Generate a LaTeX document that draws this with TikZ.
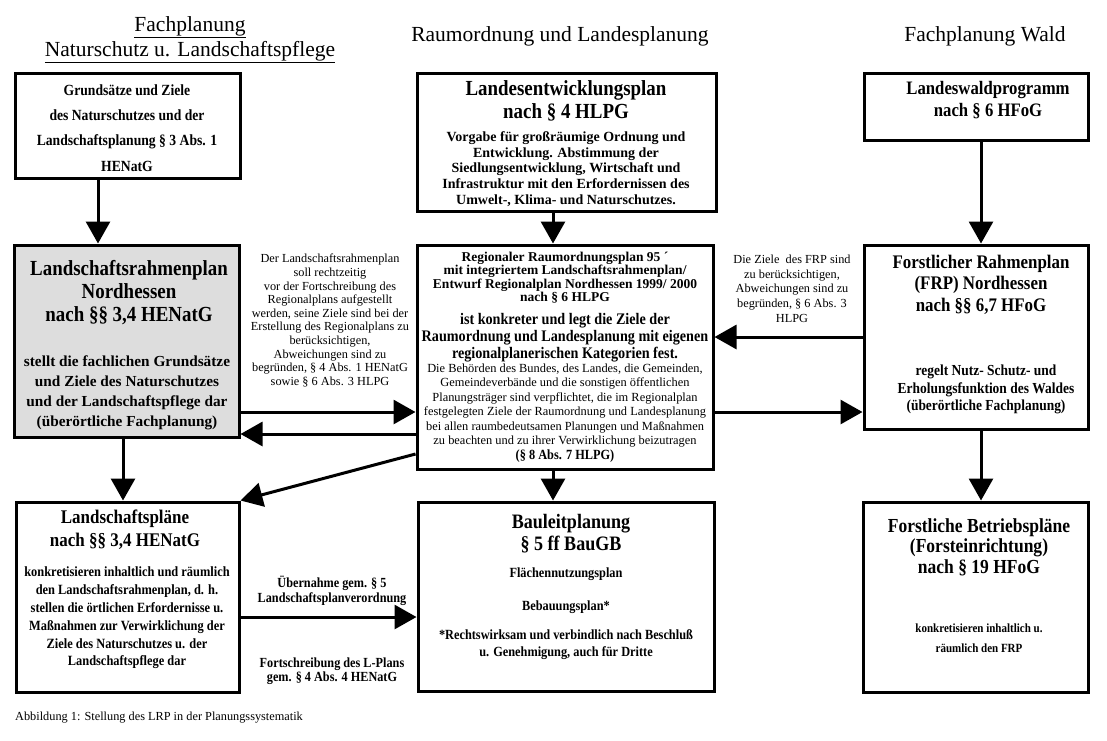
\documentclass[tikz,border=0pt]{standalone}
\usepackage{fontspec}
\setmainfont{Liberation Serif}
\newfontfamily\cbf{Liberation Serif}[FakeStretch=0.88]
\usepackage{tikz}
\usetikzlibrary{arrows.meta}
\usetikzlibrary{positioning}

\newcommand\fsz[2]{\fontsize{#1}{#2}\selectfont}
\definecolor{lrpgray}{RGB}{221,221,221}

\tikzset{
  box/.style={draw, line width=3pt, inner sep=0pt},
  arr/.style={line width=3pt, -{Triangle[length=22pt,width=24pt]}},
  txt/.style={align=center, inner sep=0pt},
}

\begin{document}
\begin{tikzpicture}[x=1pt,y=-1pt]
  \useasboundingbox (0,0) rectangle (1107,740);

  % column headings
  \node[txt, font=\fsz{21.5}{25}] (hnat) at (190,40)
    {\underline{Fachplanung}\\\underline{Naturschutz u. Landschaftspflege}};
  \node[txt, font=\fsz{21.5}{25}] (hraum) at (560,36) {Raumordnung und Landesplanung};
  \node[txt, font=\fsz{21.5}{25}] (hwald) at (985,36) {Fachplanung Wald};

  % boxes
  \node[box, minimum width=225pt, minimum height=105pt] (grund) at (127.5,125.5) {};
  \node[box, minimum width=299pt, minimum height=138pt] (lep) at (566.5,142) {};
  \node[box, minimum width=224pt, minimum height=67pt] (lwp) at (976,106.5) {};
  \node[box, fill=lrpgray, minimum width=225pt, minimum height=192pt] (lrp) at (126.5,341) {};
  \node[box, minimum width=296pt, minimum height=224pt] (rrop) at (565,357) {};
  \node[box, minimum width=224pt, minimum height=184pt] (frp) at (976,337) {};
  \node[box, minimum width=223pt, minimum height=190pt] (lp) at (127.5,597) {};
  \node[box, minimum width=296pt, minimum height=189pt] (bau) at (566,596.5) {};
  \node[box, minimum width=225pt, minimum height=190pt] (fbp) at (975.5,597) {};

  % box texts
  \node[txt, font=\fsz{15.5}{25.3}\cbf\bfseries] (grundtxt) at (127,128)
    {Grundsätze und Ziele\\des Naturschutzes und der\\Landschaftsplanung § 3 Abs. 1\\HENatG};

  \node[txt, font=\fsz{21.5}{23}\cbf\bfseries] (leptitle) at (566,100.5)
    {Landesentwicklungsplan\\nach § 4 HLPG};
  \node[txt, font=\fsz{14}{15.7}\bfseries] (leptxt) at (566,169)
    {Vorgabe für großräumige Ordnung und\\Entwicklung. Abstimmung der\\Siedlungsentwicklung, Wirtschaft und\\Infrastruktur mit den Erfordernissen des\\Umwelt-, Klima- und Naturschutzes.};

  \node[txt, font=\fsz{19}{22}\cbf\bfseries] (lwptitle) at (988,100)
    {Landeswaldprogramm\\nach § 6 HFoG};

  \node[txt, font=\fsz{21.5}{23}\cbf\bfseries] (lrptitle) at (129,293)
    {Landschaftsrahmenplan\\Nordhessen\\nach §§ 3,4 HENatG};
  \node[txt, font=\fsz{15.3}{20}\bfseries] (lrptxt) at (127,393)
    {stellt die fachlichen Grundsätze\\und Ziele des Naturschutzes\\und der Landschaftspflege dar\\(überörtliche Fachplanung)};

  \node[txt, font=\fsz{13.5}{13.5}\bfseries] (rroptitle) at (565,277.5)
    {Regionaler Raumordnungsplan 95 ´\\mit integriertem Landschaftsrahmenplan/\\Entwurf Regionalplan Nordhessen 1999/ 2000\\nach § 6 HLPG};
  \node[txt, font=\fsz{16.1}{17}\cbf\bfseries] (rropziel) at (565,337.5)
    {ist konkreter und legt die Ziele der\\Raumordnung und Landesplanung mit eigenen\\regionalplanerischen Kategorien fest.};
  \node[txt, font=\fsz{12.4}{14.4}] (rroptxt) at (565,405.5)
    {Die Behörden des Bundes, des Landes, die Gemeinden,\\Gemeindeverbände und die sonstigen öffentlichen\\Planungsträger sind verpflichtet, die im Regionalplan\\festgelegten Ziele der Raumordnung und Landesplanung\\bei allen raumbedeutsamen Planungen und Maßnahmen\\zu beachten und zu ihrer Verwirklichung beizutragen};
  \node[txt, font=\fsz{14}{14}\cbf\bfseries] (rropref) at (565,456) {(§ 8 Abs. 7 HLPG)};

  \node[txt, font=\fsz{19.2}{21.5}\cbf\bfseries] (frptitle) at (981,284.5)
    {Forstlicher Rahmenplan\\(FRP) Nordhessen\\nach §§ 6,7 HFoG};
  \node[txt, font=\fsz{15.3}{17.5}\cbf\bfseries] (frptxt) at (986,389.5)
    {regelt Nutz- Schutz- und\\Erholungsfunktion des Waldes\\(überörtliche Fachplanung)};

  \node[txt, font=\fsz{19.3}{23}\cbf\bfseries] (lptitle) at (125,529.5)
    {Landschaftspläne\\nach §§ 3,4 HENatG};
  \node[txt, font=\fsz{14.1}{17.8}\cbf\bfseries] (lptxt) at (127,618)
    {konkretisieren inhaltlich und räumlich\\den Landschaftsrahmenplan, d. h.\\stellen die örtlichen Erfordernisse u.\\Maßnahmen zur Verwirklichung der\\Ziele des Naturschutzes u. der\\Landschaftspflege dar};

  \node[txt, font=\fsz{20.5}{22}\cbf\bfseries] (bautitle) at (571,533.5)
    {Bauleitplanung\\§ 5 ff BauGB};
  \node[txt, font=\fsz{14}{17}\cbf\bfseries] (baufnp) at (566,574) {Flächennutzungsplan};
  \node[txt, font=\fsz{14}{17}\cbf\bfseries] (baubp) at (566,607) {Bebauungsplan*};
  \node[txt, font=\fsz{14}{17}\cbf\bfseries] (bautxt) at (566,645)
    {*Rechtswirksam und verbindlich nach Beschluß\\u. Genehmigung, auch für Dritte};

  \node[txt, font=\fsz{19.9}{20.5}\cbf\bfseries] (fbptitle) at (979,547)
    {Forstliche Betriebspläne\\(Forsteinrichtung)\\nach § 19 HFoG};
  \node[txt, font=\fsz{12.5}{20.5}\cbf\bfseries] (fbptxt) at (979,638)
    {konkretisieren inhaltlich u.\\räumlich den FRP};

  % connector labels
  \node[txt, font=\fsz{12.3}{13.6}] (lrplabel) at (330,320.5)
    {Der Landschaftsrahmenplan\\soll rechtzeitig\\vor der Fortschreibung des\\Regionalplans aufgestellt\\werden, seine Ziele sind bei der\\Erstellung des Regionalplans zu\\berücksichtigen,\\Abweichungen sind zu\\begründen, § 4 Abs. 1 HENatG\\sowie § 6 Abs. 3 HLPG};
  \node[txt, font=\fsz{12.3}{14.7}] (frplabel) at (792,288.5)
    {Die Ziele\ \ des FRP sind\\zu berücksichtigen,\\Abweichungen sind zu\\begründen, § 6 Abs. 3\\HLPG};
  \node[txt, font=\fsz{13.9}{14.5}\cbf\bfseries] (lplabel) at (332,590.5)
    {Übernahme gem. § 5\\Landschaftsplanverordnung};
  \node[txt, font=\fsz{13.9}{13.5}\cbf\bfseries] (lplabelb) at (332,671)
    {Fortschreibung des L-Plans\\gem. § 4 Abs. 4 HENatG};

  % caption
  \node[txt, anchor=west, font=\fsz{12.3}{14}] (caption) at (15,718)
    {Abbildung 1: Stellung des LRP in der Planungssystematik};

  % connectors
  \coordinate (c98) at (98,0);
  \coordinate (c123) at (123,0);
  \coordinate (c553) at (553,0);
  \coordinate (c981) at (981,0);
  \coordinate (c337) at (0,337);
  \coordinate (c412) at (0,412);
  \coordinate (c434) at (0,434);
  \coordinate (c454) at (0,454);
  \coordinate (c617) at (0,617);

  \draw[arr] (grund.south -| c98) -- (lrp.north -| c98);
  \draw[arr] (lep.south -| c553) -- (rrop.north -| c553);
  \draw[arr] (lwp.south -| c981) -- (frp.north -| c981);
  \draw[arr] (lrp.east |- c412) -- (rrop.west |- c412);
  \draw[arr] (rrop.west |- c434) -- (lrp.east |- c434);
  \draw[arr] (rrop.west |- c454) -- (lp.north east);
  \draw[arr] (lrp.south -| c123) -- (lp.north -| c123);
  \draw[arr] (frp.west |- c337) -- (rrop.east |- c337);
  \draw[arr] (rrop.east |- c412) -- (frp.west |- c412);
  \draw[arr] (rrop.south -| c553) -- (bau.north -| c553);
  \draw[arr] (frp.south -| c981) -- (fbp.north -| c981);
  \draw[arr] (lp.east |- c617) -- (bau.west |- c617);
\end{tikzpicture}
\end{document}
